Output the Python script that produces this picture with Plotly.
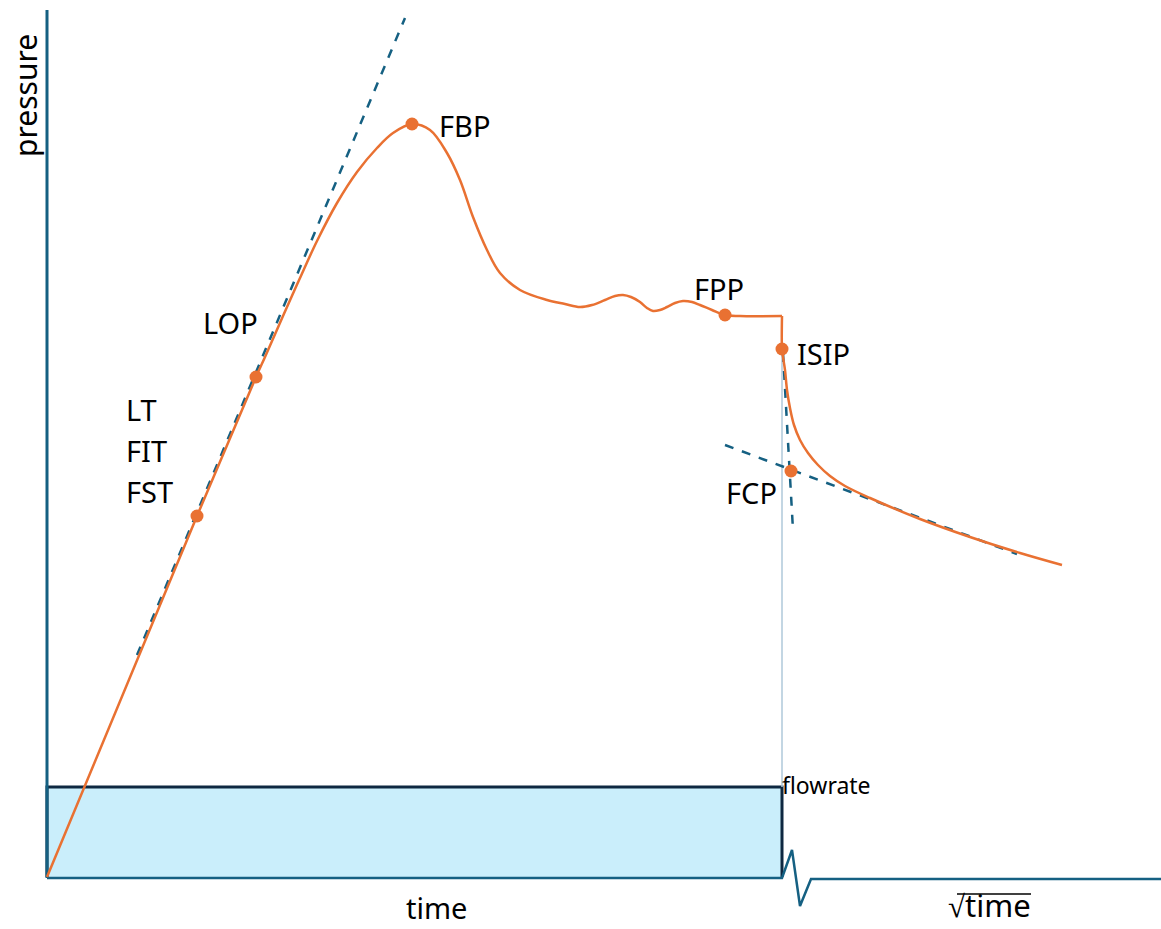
import plotly.graph_objects as go

# Injection pressure record (arbitrary units): time vs pressure
time_pump = [0, 150, 209, 218, 236, 253, 270, 290, 310, 330, 346, 365, 383, 400, 413,
             426, 440, 453, 473, 500, 518, 533, 545, 558, 568, 576, 584, 593, 600,
             606, 613, 620, 628, 636, 645, 653, 665, 678, 693, 735]
pres_pump = [0, 361, 500, 520, 561, 599, 636, 674, 705, 729, 744, 753, 747, 724, 697,
             660, 627, 604, 587, 577, 573, 570, 572, 577, 581, 582, 580, 575, 569,
             566, 567, 570, 574, 576, 575, 572, 567, 562, 561, 561]

# Shut-in decline after pumps stop
time_shut = [735, 735, 736, 738, 740, 743, 747, 753, 761, 771, 783, 798, 823, 873, 923,
             973, 1015]
pres_shut = [561, 528, 520, 507, 487, 469, 452, 437, 424, 412, 401, 391, 379, 358, 340,
             324, 312]

# Characteristic points
pt_names = ["FST", "LOP", "FBP", "FPP", "ISIP", "FCP"]
pt_time = [150, 209, 365, 678, 735, 744]
pt_pres = [361, 500, 753, 562, 528, 406]

# Interpretation lines (two points each)
tangent_time = [90, 358]
tangent_pres = [222, 859]
closure_a_time = [678, 970]
closure_a_pres = [432, 323]
closure_b_time = [736, 746]
closure_b_pres = [524, 347]

# Flow rate schedule
rate_time = [0, 0, 735, 735]
rate_value = [0, 90, 90, 0]
t_shut_in = 735

ORANGE = "#E97132"
TEAL = "#156082"
NAVY = "#0E2841"
FONT = "Noto Sans"

fig = go.Figure()

# Flowrate block
fig.add_trace(go.Scatter(
    x=rate_time, y=rate_value, mode="lines", fill="toself",
    fillcolor="#CAEEFB", line=dict(color=NAVY, width=3), hoverinfo="skip"))

# Shut-in marker line
fig.add_trace(go.Scatter(
    x=[t_shut_in, t_shut_in], y=[rate_value[1], pt_pres[4]], mode="lines",
    line=dict(color="#AFC8DA", width=1.5), hoverinfo="skip"))

# Axes: pressure axis and broken time / sqrt(time) axis
fig.add_trace(go.Scatter(
    x=[0, 0], y=[867, -1], mode="lines",
    line=dict(color=TEAL, width=3), hoverinfo="skip"))
fig.add_trace(go.Scatter(
    x=[0, 735, 745, 753, 764, 1114], y=[-1, -1, 27, -29, -2, -2], mode="lines",
    line=dict(color=TEAL, width=2.5), hoverinfo="skip"))

# Dashed interpretation lines
for xs, ys in [(tangent_time, tangent_pres), (closure_a_time, closure_a_pres),
               (closure_b_time, closure_b_pres)]:
    fig.add_trace(go.Scatter(
        x=xs, y=ys, mode="lines",
        line=dict(color=TEAL, width=2.5, dash="dash"), hoverinfo="skip"))

# Pressure curves
fig.add_trace(go.Scatter(
    x=time_pump, y=pres_pump, mode="lines", line_shape="spline",
    line=dict(color=ORANGE, width=2.5, smoothing=1.0), hoverinfo="skip"))
fig.add_trace(go.Scatter(
    x=time_shut, y=pres_shut, mode="lines", line_shape="spline",
    line=dict(color=ORANGE, width=2.5, smoothing=1.0), hoverinfo="skip"))

# Points
fig.add_trace(go.Scatter(
    x=pt_time, y=pt_pres, mode="markers",
    marker=dict(color=ORANGE, size=13), hoverinfo="skip"))

labels = [
    ("FBP", 390, 752, "left", 29),
    ("LOP", 154, 555, "left", 29),
    ("LT", 77, 468, "left", 29),
    ("FIT", 77, 427, "left", 29),
    ("FST", 77, 386, "left", 29),
    ("FPP", 645, 589, "left", 29),
    ("ISIP", 748, 524, "left", 29),
    ("FCP", 677, 385, "left", 29),
    ("flowrate", 733, 92, "left", 23),
    ("time", 389, -30, "center", 29),
    ("√time", 942, -28, "center", 31),
]
for text, x, y, anchor, size in labels:
    fig.add_annotation(x=x, y=y, text=text, showarrow=False, xanchor=anchor,
                       yanchor="middle", font=dict(family=FONT, size=size, color="black"))

# Vinculum over the square-root label
fig.add_shape(type="line", xref="paper", yref="paper",
              x0=957 / 1161, x1=1031 / 1161, y0=1 - 894 / 929, y1=1 - 894 / 929,
              line=dict(color="black", width=1.5))

fig.add_annotation(x=-22, y=781, text="pressure", showarrow=False, textangle=-90,
                   xanchor="center", yanchor="middle",
                   font=dict(family=FONT, size=30, color="black"))

fig.update_layout(
    width=1161, height=929, margin=dict(l=0, r=0, t=0, b=0),
    paper_bgcolor="white", plot_bgcolor="white", showlegend=False,
    xaxis=dict(range=[-47, 1114], visible=False, fixedrange=True),
    yaxis=dict(range=[-52, 877], visible=False, fixedrange=True),
)

fig.write_html("out.html")
